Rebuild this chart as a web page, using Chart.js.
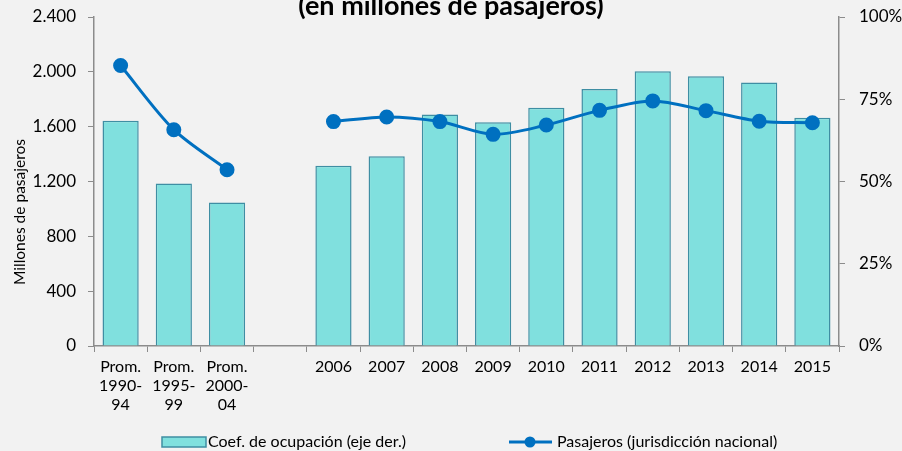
<!DOCTYPE html>
<html>
<head>
<meta charset="utf-8">
<script src="https://cdn.jsdelivr.net/npm/chart.js@4"></script>
<style>
  html, body { margin: 0; padding: 0; background: #f2f2f2; }
  #wrap { width: 902px; height: 451px; }
</style>
</head>
<body>
<div id="wrap"><canvas id="paxChart" width="902" height="451"></canvas></div>
<script>
// Categories (empty slot = gap between averages and yearly data)
const categories = [
  ['Prom.', '1990-', '94'], ['Prom.', '1995-', '99'], ['Prom.', '2000-', '04'], '',
  '2006', '2007', '2008', '2009', '2010', '2011', '2012', '2013', '2014', '2015'
];

// Coef. de ocupación (%), right axis
const coefOcupacion = [68.5, 49.4, 43.6, null, 54.8, 57.7, 70.4, 68.0, 72.4, 78.1, 83.5, 82.0, 80.1, 69.4];

// Pasajeros (millones), left axis
const pasajeros = [2046, 1578, 1286, null, 1637, 1671, 1637, 1544, 1612, 1719, 1788, 1717, 1640, 1629];

const titleText = '(en millones de pasajeros)';
const yTitle = 'Millones de pasajeros';
const barLabel = 'Coef. de ocupación (eje der.)';
const lineLabel = 'Pasajeros (jurisdicción nacional)';

const FONT = 'Lato, "Liberation Sans", sans-serif';
const BAR_FILL = '#80e0de';
const BAR_EDGE = '#3f8ea3';
const LINE_COL = '#0070c0';
const AXIS_COL = '#8c8c8c';

// title, y title + legend drawn by hand (Excel style)
const extras = {
  id: 'extras',
  beforeDraw(chart) {
    const c = chart.ctx;
    c.save();
    c.fillStyle = '#f2f2f2';
    c.fillRect(0, 0, chart.width, chart.height);
    c.restore();
  },
  afterDraw(chart) {
    const c = chart.ctx;
    c.save();
    c.fillStyle = '#000';
    c.font = 'bold 27px ' + FONT;
    c.textAlign = 'center';
    c.textBaseline = 'alphabetic';
    c.fillText(titleText, 451, 15);

    // rotated axis title
    c.save();
    c.translate(20, 212);
    c.rotate(-Math.PI / 2);
    c.font = '15.5px ' + FONT;
    c.textBaseline = 'middle';
    c.fillText(yTitle, 0, 0);
    c.restore();

    // legend
    c.font = '16px ' + FONT;
    c.textAlign = 'left';
    c.textBaseline = 'middle';
    c.fillStyle = BAR_FILL;
    c.fillRect(162, 437, 44, 10);
    c.strokeStyle = BAR_EDGE;
    c.lineWidth = 1.5;
    c.strokeRect(162, 437, 44, 10);
    c.fillStyle = '#000';
    c.fillText(barLabel, 208, 442);

    c.strokeStyle = LINE_COL;
    c.lineWidth = 3;
    c.beginPath();
    c.moveTo(509, 442);
    c.lineTo(552, 442);
    c.stroke();
    c.fillStyle = LINE_COL;
    c.beginPath();
    c.arc(530, 442, 5.5, 0, Math.PI * 2);
    c.fill();
    c.fillStyle = '#000';
    c.fillText(lineLabel, 557, 442);
    c.restore();
  }
};

new Chart(document.getElementById('paxChart').getContext('2d'), {
  data: {
    labels: categories,
    datasets: [
      {
        type: 'line',
        label: lineLabel,
        data: pasajeros,
        yAxisID: 'y',
        borderColor: LINE_COL,
        backgroundColor: LINE_COL,
        borderWidth: 3,
        pointRadius: 6,
        pointHoverRadius: 6,
        pointBackgroundColor: LINE_COL,
        pointBorderColor: LINE_COL,
        tension: 0.3,
        spanGaps: false,
        order: 0
      },
      {
        type: 'bar',
        label: barLabel,
        data: coefOcupacion,
        yAxisID: 'y1',
        backgroundColor: BAR_FILL,
        borderColor: BAR_EDGE,
        borderWidth: 1.5,
        barPercentage: 0.68,
        categoryPercentage: 1,
        order: 1
      }
    ]
  },
  options: {
    responsive: false,
    animation: false,
    layout: { padding: { top: 17, bottom: 30, left: 0, right: 0 } },
    plugins: {
      legend: { display: false },
      tooltip: { enabled: false }
    },
    scales: {
      x: {
        offset: true,
        grid: { display: true, drawOnChartArea: false, offset: true, tickLength: 6, color: AXIS_COL },
        border: { color: AXIS_COL, width: 1.5 },
        ticks: { color: '#000', font: { family: FONT, size: 16 }, padding: 5, maxRotation: 0, autoSkip: false },
        afterFit(s) { s.height = 75; s.paddingLeft = 0; s.paddingRight = 0; }
      },
      y: {
        position: 'left',
        min: 0, max: 2400,
        ticks: {
          stepSize: 400, color: '#000', padding: 12,
          font: { family: FONT, size: 17 },
          callback: v => v.toLocaleString('de-DE')
        },
        grid: { drawOnChartArea: false, tickLength: 6, color: AXIS_COL },
        border: { color: AXIS_COL, width: 1.5 },
        afterFit(s) { s.width = 94; s.paddingTop = 0; s.paddingBottom = 0; }
      },
      y1: {
        position: 'right',
        min: 0, max: 100,
        ticks: {
          stepSize: 25, color: '#000', padding: 14,
          font: { family: FONT, size: 17 },
          callback: v => v + '%'
        },
        grid: { drawOnChartArea: false, tickLength: 6, color: AXIS_COL },
        border: { color: AXIS_COL, width: 1.5 },
        afterFit(s) { s.width = 63; s.paddingTop = 0; s.paddingBottom = 0; }
      }
    }
  },
  plugins: [extras]
});
</script>
</body>
</html>
